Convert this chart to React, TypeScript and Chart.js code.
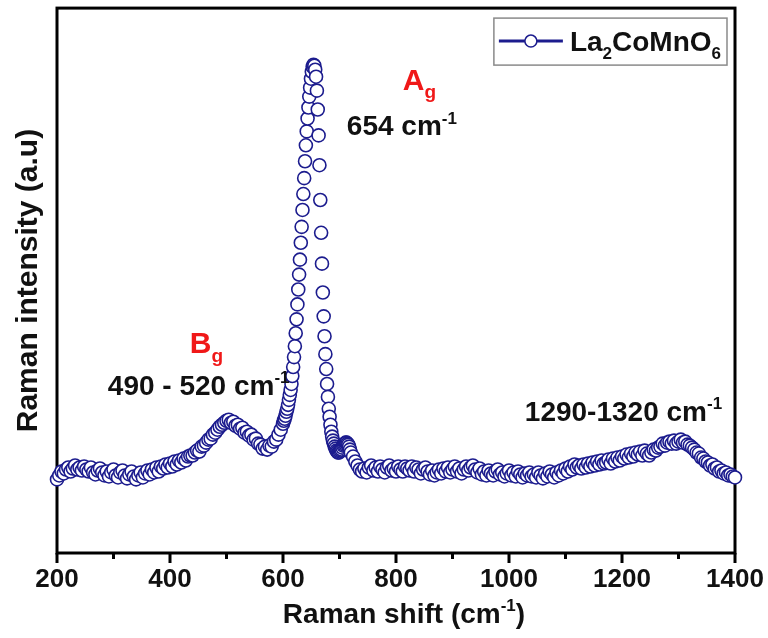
import { useEffect, useRef } from "react";
import { Chart, registerables } from "chart.js";

Chart.register(...registerables);

const FONT = "'Liberation Sans', Arial, Helvetica, sans-serif";
const NAVY = "#1c1c8e";
const RED = "#f01818";

// Raman spectrum of La2CoMnO6 (arbitrary intensity units)
// segment A: 200 .. 596 cm-1, every 4 cm-1
const segAStart = 200;
const segAStep = 4;
const segA = [
  74, 78, 82, 80, 84, 86, 82, 85, 88, 84, 86, 83, 87, 84, 82, 86, 81, 79, 83, 85,
  81, 78, 82, 77, 81, 84, 78, 76, 81, 83, 78, 75, 79, 82, 77, 74, 78, 81, 76, 80,
  83, 79, 84, 81, 86, 82, 87, 85, 89, 86, 90, 87, 92, 89, 93, 91, 95, 93, 97, 98,
  98, 101, 103, 102, 107, 108, 111, 114, 115, 119, 121, 124, 127, 129, 131, 133, 134, 131, 132, 128,
  129, 125, 126, 121, 122, 118, 119, 114, 115, 110, 109, 105, 107, 104, 108, 107, 112, 114, 119, 124,
];
// segment B: 600 .. 720 cm-1, every 1.5 cm-1 (main A_g band)
const segBStart = 600;
const segBStep = 1.5;
const segB = [
  130, 133, 135, 138, 142, 145, 149, 154, 159, 164,
  170, 178, 187, 197, 208, 221, 235, 250, 265, 280,
  295, 312, 328, 345, 361, 377, 394, 410, 424, 437,
  448, 459, 468, 477, 484, 489, 491, 490, 486, 479,
  465, 446, 420, 390, 355, 322, 291, 262, 238, 218,
  200, 185, 170, 157, 145, 137, 129, 122, 117, 113,
  110, 107, 105, 103, 102, 101, 101, 102, 103, 104,
  106, 108, 109, 110, 111, 111, 110, 109, 107, 104,
  101,
];
// segment C: 724 .. 1400 cm-1, every 4 cm-1
const segCStart = 724;
const segCStep = 4;
const segC = [
  97, 92, 88, 84, 82, 85, 81, 86, 88, 83, 86, 82, 87, 84, 81, 86, 88, 83, 85, 82,
  87, 84, 82, 87, 85, 83, 87, 82, 86, 84, 80, 84, 86, 82, 79, 83, 78, 81, 84, 80,
  85, 82, 86, 81, 84, 87, 82, 85, 80, 84, 87, 83, 86, 88, 84, 81, 85, 79, 82, 78,
  83, 80, 78, 82, 84, 79, 81, 77, 80, 83, 78, 81, 77, 82, 79, 76, 80, 78, 81, 77,
  79, 76, 81, 78, 75, 80, 77, 82, 79, 76, 81, 78, 83, 80, 85, 82, 87, 84, 89, 86,
  88, 85, 89, 86, 90, 87, 91, 88, 92, 89, 93, 90, 91, 94, 90, 95, 92, 96, 93, 97,
  95, 99, 96, 100, 97, 101, 99, 102, 98, 103, 100, 98, 101, 104, 103, 106, 107, 110, 108, 111,
  112, 110, 113, 110, 112, 114, 111, 112, 109, 108, 106, 104, 101, 100, 96, 95, 92, 91, 88, 89,
  85, 86, 82, 83, 80, 81, 78, 79, 77, 76,
];

const xMin = 200;
const xMax = 1400;
const yMin = 0;
const yMax = 548;
const majorTicks = [200, 400, 600, 800, 1000, 1200, 1400];
const minorTicks = [300, 500, 700, 900, 1100, 1300];

const seriesLabel = [
  { t: "La" },
  { t: "2", k: "sub" },
  { t: "CoMnO" },
  { t: "6", k: "sub" },
];
const xTitle = [{ t: "Raman shift (cm" }, { t: "-1", k: "sup" }, { t: ")" }];
const yTitle = "Raman intensity (a.u)";

// annotations: anchor (left, baseline) in data units
const notes = [
  { x: 812, y: 466, color: RED, size: 30, parts: [{ t: "A" }, { t: "g", k: "sub" }] },
  { x: 713, y: 420, color: "#111", size: 28, parts: [{ t: "654 cm" }, { t: "-1", k: "sup" }] },
  { x: 435, y: 201, color: RED, size: 30, parts: [{ t: "B" }, { t: "g", k: "sub" }] },
  { x: 290, y: 159, color: "#111", size: 28, parts: [{ t: "490 - 520 cm" }, { t: "-1", k: "sup" }] },
  { x: 1028, y: 133, color: "#111", size: 28, parts: [{ t: "1290-1320 cm" }, { t: "-1", k: "sup" }] },
];

type Part = { t: string; k?: string };

function buildPoints() {
  const pts: { x: number; y: number }[] = [];
  segA.forEach((v, i) => pts.push({ x: segAStart + i * segAStep, y: v }));
  segB.forEach((v, i) => pts.push({ x: segBStart + i * segBStep, y: v }));
  segC.forEach((v, i) => pts.push({ x: segCStart + i * segCStep, y: v }));
  return pts;
}

function partFont(size: number, k?: string) {
  const s = k ? Math.round(size * 0.62) : size;
  return `bold ${s}px ${FONT}`;
}

function richWidth(ctx: CanvasRenderingContext2D, parts: Part[], size: number) {
  let w = 0;
  for (const p of parts) {
    ctx.font = partFont(size, p.k);
    w += ctx.measureText(p.t).width;
  }
  return w;
}

function drawRich(
  ctx: CanvasRenderingContext2D,
  x: number,
  y: number,
  parts: Part[],
  size: number,
  color: string
) {
  ctx.fillStyle = color;
  ctx.textBaseline = "alphabetic";
  ctx.textAlign = "left";
  let cx = x;
  for (const p of parts) {
    ctx.font = partFont(size, p.k);
    const dy = p.k === "sub" ? size * 0.28 : p.k === "sup" ? -size * 0.42 : 0;
    ctx.fillText(p.t, cx, y + dy);
    cx += ctx.measureText(p.t).width;
  }
}

const framePlugin = {
  id: "frame",
  beforeDatasetsDraw(chart: any) {
    const { ctx, chartArea: a, scales } = chart;
    const x = scales.x;
    ctx.save();
    ctx.strokeStyle = "#000";
    ctx.lineWidth = 3;
    ctx.strokeRect(a.left, a.top, a.right - a.left, a.bottom - a.top);
    ctx.beginPath();
    for (const v of majorTicks) {
      const px = x.getPixelForValue(v);
      ctx.moveTo(px, a.bottom);
      ctx.lineTo(px, a.bottom + 10);
    }
    for (const v of minorTicks) {
      const px = x.getPixelForValue(v);
      ctx.moveTo(px, a.bottom);
      ctx.lineTo(px, a.bottom + 6);
    }
    ctx.stroke();
    ctx.restore();
  },
  afterDraw(chart: any) {
    const { ctx, chartArea: a, scales } = chart;
    const x = scales.x;
    const y = scales.y;
    ctx.save();
    // axis titles
    const tw = richWidth(ctx, xTitle, 28);
    drawRich(ctx, (a.left + a.right) / 2 + 8 - tw / 2, a.bottom + 70, xTitle, 28, "#111");
    ctx.save();
    ctx.translate(37, (a.top + a.bottom) / 2);
    ctx.rotate(-Math.PI / 2);
    ctx.font = `bold 30px ${FONT}`;
    ctx.fillStyle = "#111";
    ctx.textAlign = "center";
    ctx.textBaseline = "alphabetic";
    ctx.fillText(yTitle, 0, 0);
    ctx.restore();

    // annotations
    for (const n of notes) {
      drawRich(ctx, x.getPixelForValue(n.x), y.getPixelForValue(n.y), n.parts, n.size, n.color);
    }

    // legend
    const lw = richWidth(ctx, seriesLabel, 28);
    const boxRight = a.right - 8;
    const boxTop = a.top + 10;
    const boxH = 47;
    const lineLen = 64;
    const boxW = 6 + lineLen + 6 + lw + 6;
    const boxLeft = boxRight - boxW;
    ctx.fillStyle = "#fff";
    ctx.fillRect(boxLeft, boxTop, boxW, boxH);
    ctx.strokeStyle = "#8a8a8a";
    ctx.lineWidth = 1.5;
    ctx.strokeRect(boxLeft, boxTop, boxW, boxH);
    const cy = boxTop + 23;
    ctx.strokeStyle = NAVY;
    ctx.lineWidth = 3;
    ctx.beginPath();
    ctx.moveTo(boxLeft + 5, cy);
    ctx.lineTo(boxLeft + 5 + lineLen, cy);
    ctx.stroke();
    ctx.beginPath();
    ctx.arc(boxLeft + 5 + lineLen / 2, cy, 6, 0, Math.PI * 2);
    ctx.fillStyle = "#fff";
    ctx.fill();
    ctx.lineWidth = 1.5;
    ctx.stroke();
    drawRich(ctx, boxLeft + 12 + lineLen, cy + 10, seriesLabel, 28, "#111");
    ctx.restore();
  },
};

export default function App() {
  const ref = useRef<HTMLCanvasElement | null>(null);
  useEffect(() => {
    if (!ref.current) return;
    const chart = new Chart(ref.current, {
      type: "scatter",
      data: {
        datasets: [
          {
            label: "La2CoMnO6",
            data: buildPoints(),
            showLine: false,
            pointRadius: 6.5,
            pointBorderWidth: 1.6,
            borderColor: NAVY,
            backgroundColor: "#ffffff",
            clip: false,
          } as any,
        ],
      },
      options: {
        responsive: false,
        animation: false,
        events: [],
        layout: { padding: { left: 57, top: 5, right: 33, bottom: 0 } },
        plugins: { legend: { display: false }, tooltip: { enabled: false } },
        scales: {
          x: {
            type: "linear",
            min: xMin,
            max: xMax,
            afterFit: (s: any) => {
              s.height = 85;
              s.paddingLeft = 0;
              s.paddingRight = 0;
            },
            afterBuildTicks: (s: any) => {
              s.ticks = majorTicks.map((v) => ({ value: v }));
            },
            grid: { display: false, drawTicks: false },
            border: { display: false },
            ticks: {
              color: "#111",
              padding: 11,
              maxRotation: 0,
              autoSkip: false,
              callback: (v: any) => String(v),
              font: { family: FONT, size: 26, weight: "bold" },
            },
          },
          y: {
            type: "linear",
            display: false,
            min: yMin,
            max: yMax,
          },
        },
      },
      plugins: [framePlugin],
    });
    return () => chart.destroy();
  }, []);
  return (
    <div style={{ position: "absolute", left: 0, top: 0, width: 768, height: 638, background: "#fff" }}>
      <canvas ref={ref} width={768} height={638} style={{ display: "block" }} />
    </div>
  );
}
